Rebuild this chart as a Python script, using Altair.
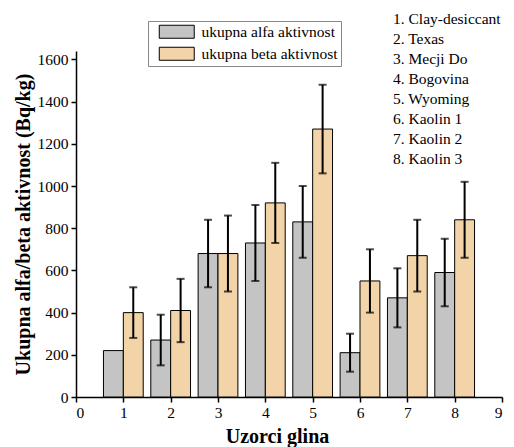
import altair as alt
import pandas as pd

# ---- data ----
samples = [1, 2, 3, 4, 5, 6, 7, 8]
sample_names = ["Clay-desiccant", "Texas", "Mecji Do", "Bogovina", "Wyoming",
                "Kaolin 1", "Kaolin 2", "Kaolin 3"]
alfa = [220, 270, 680, 730, 830, 210, 470, 590]
alfa_err = [0, 120, 160, 180, 170, 90, 140, 160]
beta = [400, 410, 680, 920, 1270, 550, 670, 840]
beta_err = [120, 150, 180, 190, 210, 150, 170, 180]
series_labels = ["ukupna alfa aktivnost", "ukupna beta aktivnost"]
x_ticks = [0, 1, 2, 3, 4, 5, 6, 7, 8, 9]
y_ticks = [0, 200, 400, 600, 800, 1000, 1200, 1400, 1600]

rows = []
for s, a, ae, b, be in zip(samples, alfa, alfa_err, beta, beta_err):
    rows.append({"sample": s, "series": series_labels[0], "side": -1, "value": a, "err": ae})
    rows.append({"sample": s, "series": series_labels[1], "side": 0, "value": b, "err": be})
df = pd.DataFrame(rows)

BW = 0.42
FONT = "Times New Roman, Liberation Serif, serif"
FS = 15.5
NBSP = "\u00a0"

base = alt.Chart(df).transform_calculate(
    x0=f"datum.sample + datum.side * {BW}",
    x1=f"datum.sample + (datum.side + 1) * {BW}",
    xc=f"datum.sample + (datum.side + 0.5) * {BW}",
    lo="datum.value - datum.err",
    hi="datum.value + datum.err",
)

xscale = alt.Scale(domain=[0, 9], nice=False, zero=False)
yscale = alt.Scale(domain=[0, 1640], nice=False)

bars = base.mark_bar(stroke="black", strokeWidth=1).encode(
    x=alt.X("x0:Q", scale=xscale,
            axis=alt.Axis(values=x_ticks, title="Uzorci glina", format="d",
                          titleX=201, titlePadding=6)),
    x2="x1:Q",
    y=alt.Y("value:Q", scale=yscale,
            axis=alt.Axis(values=y_ticks, format="d",
                          title="Ukupna alfa/beta aktivnost (Bq/kg)",
                          titlePadding=4)),
    y2=alt.datum(0),
    color=alt.Color("series:N",
                    scale=alt.Scale(domain=series_labels, range=["#c4c4c4", "#f2d4a8"]),
                    legend=alt.Legend(
                        title=None, orient="none", legendX=72, legendY=-30,
                        fillColor="white", strokeColor="#888888", padding=3,
                        symbolType="M0.08,-1H5.46V1H0.08Z", symbolSize=169,
                        symbolStrokeColor="black", symbolStrokeWidth=1,
                        symbolOpacity=1, labelOffset=35,
                        labelFont=FONT, labelFontSize=FS, labelColor="black",
                        rowPadding=4,
                        labelExpr=f"datum.label + '{NBSP * 4}'")),
)

eb = base.transform_filter("datum.err > 0")
rules = eb.mark_rule(color="black", strokeWidth=2).encode(
    x="xc:Q", y="lo:Q", y2="hi:Q")
caps_hi = eb.mark_tick(color="black", orient="horizontal", size=8, thickness=2).encode(
    x="xc:Q", y="hi:Q")
caps_lo = eb.mark_tick(color="black", orient="horizontal", size=8, thickness=2).encode(
    x="xc:Q", y="lo:Q")

legend_lines = [f"{i}. {n}" for i, n in zip(samples, sample_names)]
names_text = alt.Chart(pd.DataFrame({"k": [0]})).mark_text(
    align="left", baseline="middle", font=FONT, fontSize=FS, color="black",
    lineHeight=20,
).encode(
    x=alt.value(317), y=alt.value(-32), text=alt.value(legend_lines))

chart = alt.layer(bars, rules, caps_hi, caps_lo, names_text).properties(
    width=426, height=346,
    autosize=alt.AutoSizeParams(type="none"),
    padding={"left": 68, "top": 43, "right": 4, "bottom": 50},
).configure_view(stroke="transparent").configure_axis(
    grid=False, domainColor="black", domainWidth=1.5, tickColor="black",
    tickWidth=1.5, tickSize=5, labelFont=FONT, labelFontSize=FS,
    labelColor="black", titleFont=FONT, titleFontSize=20, titleFontWeight="bold",
    titleColor="black", labelPadding=3,
)

chart.save("out.html", embed_options={"renderer": "svg", "actions": False})
